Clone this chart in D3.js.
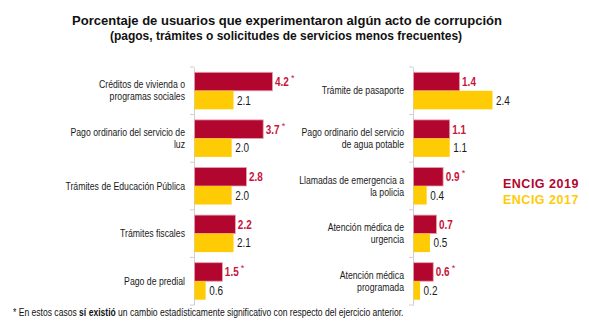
<!DOCTYPE html>
<html>
<head>
<meta charset="utf-8">
<script src="https://cdn.jsdelivr.net/npm/d3@7"></script>
<style>
  body { margin: 0; background: #fff; }
  text { font-family: "Liberation Sans", Arial, sans-serif; }
</style>
</head>
<body>
<div id="chart-area"></div>
<script>
// tramites del panel izquierdo y derecho
var catsLeft = [
    ["Créditos de vivienda o", "programas sociales"],
    ["Pago ordinario del servicio de", "luz"],
    ["Trámites de Educación Pública"],
    ["Trámites fiscales"],
    ["Pago de predial"]
];
var left2019 = [4.2, 3.7, 2.8, 2.2, 1.5];
var left2017 = [2.1, 2.0, 2.0, 2.1, 0.6];
var leftSig = [true, true, false, false, true];

var catsRight = [
    ["Trámite de pasaporte"],
    ["Pago ordinario del servicio", "de agua potable"],
    ["Llamadas de emergencia a", "la policia"],
    ["Atención médica de", "urgencia"],
    ["Atención médica", "programada"]
];
var right2019 = [1.4, 1.1, 0.9, 0.7, 0.6];
var right2017 = [2.4, 1.1, 0.4, 0.5, 0.2];
var rightSig = [false, false, true, false, true];

var seriesNames = ["ENCIG 2019", "ENCIG 2017"];

var width = 589, height = 329;
var red = "#b2062f", yellow = "#ffcb05";
var sx = 0.83; // letra condensada

var svg = d3.select("#chart-area").append("svg")
    .attr("width", width)
    .attr("height", height);

svg.append("text")
    .attr("x", 287).attr("y", 25)
    .attr("text-anchor", "middle")
    .attr("font-size", "13px").attr("font-weight", "bold")
    .attr("fill", "#111")
    .text("Porcentaje de usuarios que experimentaron algún acto de corrupción");
svg.append("text")
    .attr("x", 286).attr("y", 39.5)
    .attr("text-anchor", "middle")
    .attr("font-size", "12px").attr("font-weight", "bold")
    .attr("fill", "#111")
    .text("(pagos, trámites o solicitudes de servicios menos frecuentes)");

function cond(sel, fx, fy) {
    return sel.append("g")
        .attr("transform", (d, i) => "translate(" + fx(d, i) + "," + fy(d, i) + ") scale(" + sx + ",1)")
        .append("text");
}

function panel(axisX, cats, v19, v17, sig, xMax, xPx) {
    var g = svg.append("g").attr("transform", "translate(" + axisX + ",0)");
    var idx = d3.range(cats.length);

    var y = d3.scaleBand().domain(idx).range([67, 305]).paddingInner(0).paddingOuter(0);
    var x = d3.scaleLinear().domain([0, xMax]).range([0, xPx]);
    var bh = 18.5;
    var off = (y.bandwidth() - 2 * bh) / 2;

    // eje vertical con marcas entre grupos
    var yAxis = d3.axisLeft(y).tickSize(0).tickFormat("");
    g.append("g").call(yAxis).select(".domain").attr("stroke", "#d0d0d0");
    g.selectAll(".sep").data(d3.range(cats.length + 1)).enter()
        .append("line")
        .attr("x1", -4).attr("x2", 0)
        .attr("y1", d => 67 + d * y.bandwidth())
        .attr("y2", d => 67 + d * y.bandwidth())
        .attr("stroke", "#d0d0d0");

    g.selectAll(".b19").data(idx).enter().append("rect")
        .attr("x", 0.5)
        .attr("y", d => y(d) + off)
        .attr("width", d => x(v19[d]))
        .attr("height", bh)
        .attr("fill", red)
        .attr("stroke", "#e8a0b0").attr("stroke-width", 0.8);
    g.selectAll(".b17").data(idx).enter().append("rect")
        .attr("x", 0.5)
        .attr("y", d => y(d) + off + bh)
        .attr("width", d => x(v17[d]))
        .attr("height", bh)
        .attr("fill", yellow);

    cond(g.selectAll(".t19").data(idx).enter(),
            d => x(v19[d]) + 3, d => y(d) + off + bh / 2 + 4.5)
        .attr("font-size", "12px").attr("font-weight", "bold")
        .attr("fill", "#c8143c")
        .text(d => v19[d].toFixed(1));
    g.selectAll(".ast").data(idx.filter(d => sig[d])).enter().append("text")
        .attr("x", d => x(v19[d]) + 19)
        .attr("y", d => y(d) + off + bh / 2 - 0.5)
        .attr("font-size", "9px")
        .attr("fill", "#c8143c")
        .text("*");
    cond(g.selectAll(".t17").data(idx).enter(),
            d => x(v17[d]) + 4, d => y(d) + off + bh * 1.5 + 4.5)
        .attr("font-size", "12px")
        .attr("fill", "#1a1a1a")
        .text(d => v17[d].toFixed(1));

    var lab = cond(g.selectAll(".lab").data(idx).enter(),
            d => -9, d => y(d) + off + bh)
        .attr("text-anchor", "end")
        .attr("font-size", "10.5px")
        .attr("fill", "#1a1a1a");
    lab.each(function(d) {
        var lines = cats[d];
        var t = d3.select(this);
        lines.forEach((s, i) => {
            t.append("tspan")
                .attr("x", 0)
                .attr("y", 3.5 + (i - (lines.length - 1) / 2) * 12)
                .text(s);
        });
    });
}

panel(194, catsLeft, left2019, left2017, leftSig, 4.2, 78);
panel(413, catsRight, right2019, right2017, rightSig, 2.4, 79);

// leyenda
svg.selectAll(".leg").data(seriesNames).enter().append("text")
    .attr("x", 503)
    .attr("y", (d, i) => 188 + i * 15.5)
    .attr("font-size", "12.5px").attr("font-weight", "bold")
    .attr("letter-spacing", "0.5px")
    .attr("fill", (d, i) => i == 0 ? red : yellow)
    .text(d => d);

var foot = svg.append("g")
    .attr("transform", "translate(13,316) scale(0.857,1)")
    .append("text")
    .attr("font-family", "Lato, sans-serif")
    .attr("font-size", "10px")
    .attr("fill", "#111");
foot.append("tspan").text("* En estos casos ");
foot.append("tspan").attr("font-weight", "bold").text("sí existió");
foot.append("tspan").text(" un cambio estadísticamente significativo con respecto del ejercicio anterior.");
</script>
</body>
</html>
